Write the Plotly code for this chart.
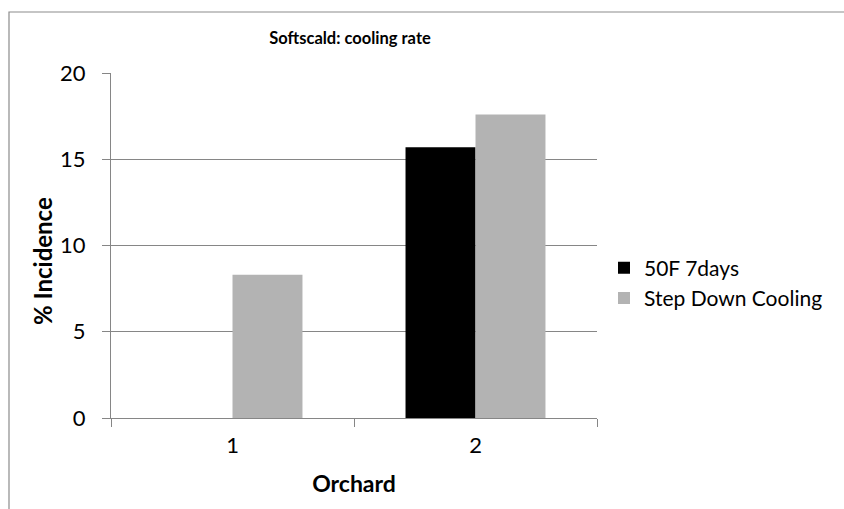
import plotly.graph_objects as go

# Softscald incidence by orchard and cooling treatment
orchards = ["1", "2"]
treatments = ["50F 7days", "Step Down Cooling"]
incidence_50f = [0, 15.7]
incidence_step = [8.3, 17.6]
y_ticks = [0, 5, 10, 15, 20]

FONT = "Lato, 'Open Sans', sans-serif"
GRID = "#868686"

fig = go.Figure()
fig.add_trace(go.Bar(x=orchards, y=incidence_50f, name=treatments[0],
                     marker=dict(color="#000000", line=dict(width=0))))
fig.add_trace(go.Bar(x=orchards, y=incidence_step, name=treatments[1],
                     marker=dict(color="#B3B3B3", line=dict(width=0))))

# plot area: x 111..597, y 73..418 in an 844x509 page
L, R, T, B = 111, 597, 73, 418
W, H = 844, 509
pw, ph = R - L, B - T

def px(x):
    return (x - L) / pw

def py(y):
    return (B - y) / ph

fig.update_layout(
    width=W, height=H,
    margin=dict(l=L, r=W - R, t=T, b=H - B, pad=0, autoexpand=False),
    paper_bgcolor="white", plot_bgcolor="white",
    barmode="group", bargap=0.424, bargroupgap=0,
    font=dict(family=FONT, color="#000000"),
    title=dict(text="<b>Softscald: cooling rate</b>", xref="container", x=350 / W,
               xanchor="center", yref="container", y=1 - 38 / H, yanchor="middle",
               font=dict(size=16.5, family=FONT)),
    showlegend=True,
    legend=dict(x=px(604), xanchor="left", y=py(283), yanchor="middle",
                font=dict(size=21, family=FONT), itemwidth=30,
                tracegroupgap=8, bgcolor="rgba(0,0,0,0)"),
    xaxis=dict(
        type="category", tickson="boundaries", ticks="outside", ticklen=8,
        tickcolor=GRID, tickwidth=1, showline=True, linecolor=GRID, linewidth=1,
        showgrid=False, tickfont=dict(size=22, family=FONT), ticklabelstandoff=8,
        title=dict(text="<b>Orchard</b>", font=dict(size=23, family=FONT), standoff=18),
    ),
    yaxis=dict(
        range=[0, 20], tickvals=y_ticks, ticks="outside", ticklen=8,
        tickcolor=GRID, tickwidth=1, showline=True, linecolor=GRID, linewidth=1,
        showgrid=True, gridcolor=GRID, gridwidth=1, zeroline=False,
        tickfont=dict(size=22, family=FONT), ticklabelstandoff=12,
    ),
    annotations=[dict(text="<b>% Incidence</b>", textangle=-90, showarrow=False,
                      xref="paper", yref="paper", x=px(42), y=py(261),
                      xanchor="center", yanchor="middle",
                      font=dict(size=24, family=FONT))],
    shapes=[dict(type="rect", xref="paper", yref="paper",
                 x0=px(9), x1=px(W + 20), y0=py(H + 20), y1=py(12),
                 line=dict(color="#8C8C8C", width=1.2), fillcolor="rgba(0,0,0,0)",
                 layer="below")],
)

fig.write_html("out.html")
